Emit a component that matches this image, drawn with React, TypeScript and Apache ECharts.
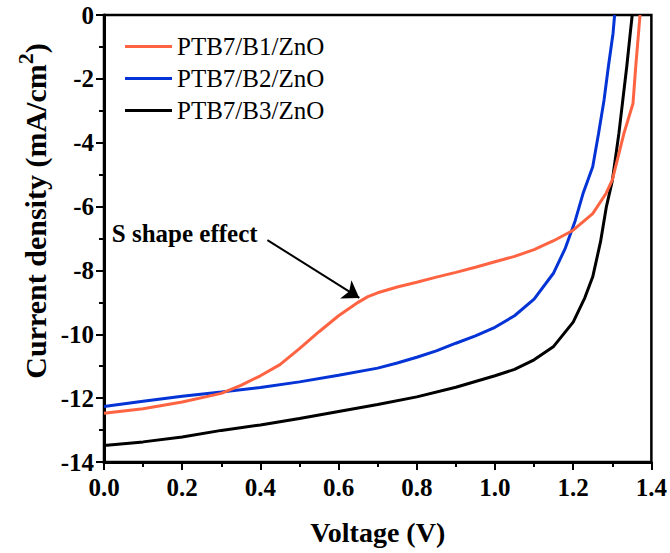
import React, { useEffect, useRef } from "react";
import * as echarts from "echarts";

const FONT = "'Liberation Serif', 'Times New Roman', serif";

const seriesNames = ["PTB7/B1/ZnO", "PTB7/B2/ZnO", "PTB7/B3/ZnO"];
const seriesColors = ["#FF6442", "#0433D6", "#000000"];

const b1Voltage = [0, 0.1, 0.2, 0.3, 0.35, 0.4, 0.45, 0.5, 0.55, 0.6, 0.65, 0.675, 0.7, 0.75, 0.8, 0.85, 0.9, 0.95, 1.0, 1.05, 1.1, 1.15, 1.2, 1.25, 1.284, 1.3, 1.33, 1.353, 1.36, 1.371];
const b1Current = [-12.47, -12.33, -12.12, -11.85, -11.6, -11.3, -10.95, -10.45, -9.92, -9.42, -9.0, -8.82, -8.7, -8.52, -8.37, -8.21, -8.06, -7.9, -7.73, -7.56, -7.35, -7.07, -6.74, -6.22, -5.59, -5.17, -3.7, -2.77, -1.62, 0];

const b2Voltage = [0, 0.1, 0.2, 0.3, 0.4, 0.5, 0.6, 0.7, 0.75, 0.8, 0.85, 0.9, 0.95, 1.0, 1.05, 1.1, 1.15, 1.18, 1.205, 1.225, 1.25, 1.265, 1.279, 1.29, 1.302, 1.306];
const b2Current = [-12.26, -12.1, -11.94, -11.81, -11.67, -11.49, -11.28, -11.06, -10.9, -10.72, -10.52, -10.28, -10.05, -9.78, -9.42, -8.9, -8.08, -7.3, -6.45, -5.6, -4.75, -3.7, -2.66, -1.62, -0.57, 0];

const b3Voltage = [0, 0.1, 0.2, 0.3, 0.4, 0.5, 0.6, 0.7, 0.8, 0.9, 1.0, 1.05, 1.1, 1.15, 1.2, 1.23, 1.25, 1.27, 1.285, 1.3, 1.317, 1.327, 1.337, 1.346, 1.351];
const b3Current = [-13.48, -13.37, -13.22, -13.01, -12.84, -12.64, -12.42, -12.2, -11.96, -11.66, -11.3, -11.1, -10.8, -10.38, -9.62, -8.85, -8.2, -7.1, -6.0, -5.2, -3.7, -2.66, -1.62, -0.57, 0];

const xTicks = { min: 0, max: 1.4, interval: 0.2 };
const yTicks = { min: -14, max: 0, interval: 2 };

// annotation (data coordinates)
const annotationText = "S shape effect";
const annotationTextAt = [0.02, -6.83];
const arrowFrom = [0.418, -7.05];
const arrowTo = [0.653, -8.86];

const zip = (v: number[], j: number[]) => v.map((x, i) => [x, j[i]]);

export default function App() {
  const ref = useRef<HTMLDivElement>(null);
  useEffect(() => {
    const chart = echarts.init(ref.current!, null, { renderer: "svg" });
    const currents = [b1Current, b2Current, b3Current];
    const voltages = [b1Voltage, b2Voltage, b3Voltage];
    const axisCommon = {
      axisLine: { show: true, onZero: false, lineStyle: { color: "#000", width: 3 } },
      axisTick: { show: true, inside: false, length: 8, lineStyle: { color: "#000", width: 2 } },
      minorTick: { show: true, splitNumber: 2, length: 5, lineStyle: { color: "#000", width: 2 } },
      splitLine: { show: false },
      minorSplitLine: { show: false },
    };
    chart.setOption({
      animation: false,
      backgroundColor: "#ffffff",
      textStyle: { fontFamily: FONT },
      grid: {
        left: 104,
        right: 18,
        top: 15,
        bottom: 91,
        show: true,
        borderColor: "#000",
        borderWidth: 2.5,
        backgroundColor: "transparent",
      },
      legend: {
        orient: "vertical",
        left: 125,
        top: 34,
        padding: 0,
        itemWidth: 47,
        itemHeight: 3,
        itemGap: 7,
        icon: "rect",
        data: seriesNames,
        textStyle: { fontFamily: FONT, fontSize: 25, color: "#000" },
      },
      xAxis: {
        type: "value",
        ...xTicks,
        ...axisCommon,
        axisLabel: {
          fontFamily: FONT,
          fontSize: 25,
          fontWeight: "bold",
          color: "#000",
          margin: 13,
          formatter: (v: number) => v.toFixed(1),
        },
        name: "Voltage (V)",
        nameLocation: "middle",
        nameGap: 56,
        nameTextStyle: { fontFamily: FONT, fontSize: 28, fontWeight: "bold", color: "#000" },
      },
      yAxis: {
        type: "value",
        ...yTicks,
        ...axisCommon,
        axisLabel: {
          fontFamily: FONT,
          fontSize: 25,
          fontWeight: "bold",
          color: "#000",
          margin: 10,
          formatter: (v: number) => String(v),
        },
      },
      series: seriesNames.map((name, i) => ({
        name,
        type: "line",
        data: zip(voltages[i], currents[i]),
        symbol: "none",
        showSymbol: false,
        smooth: false,
        color: seriesColors[i],
        lineStyle: { width: 3, color: seriesColors[i] },
        z: 3 - i,
        ...(i === 2
          ? {
              markLine: {
                silent: true,
                symbol: ["none", "arrow"],
                symbolSize: 16,
                label: { show: false },
                lineStyle: { color: "#000", width: 2, type: "solid" },
                itemStyle: { color: "#000" },
                data: [[{ coord: arrowFrom }, { coord: arrowTo }]],
              },
            }
          : {}),
      })),
    });
    const tp = chart.convertToPixel({ gridIndex: 0 }, annotationTextAt) as number[];
    chart.setOption({
      graphic: [
        {
          type: "text",
          x: tp[0],
          y: tp[1],
          style: {
            text: annotationText,
            fontFamily: FONT,
            fontSize: 25,
            fontWeight: "bold",
            fill: "#000",
            textAlign: "left",
            textVerticalAlign: "middle",
          },
        },
        {
          type: "text",
          x: 35,
          y: 211,
          rotation: Math.PI / 2,
          style: {
            text: "{a|Current density (mA/cm}{b|2}{a|)}",
            textAlign: "center",
            textVerticalAlign: "middle",
            fill: "#000",
            rich: {
              a: { fontFamily: FONT, fontSize: 30, fontWeight: "bold", fill: "#000", lineHeight: 42 },
              b: { fontFamily: FONT, fontSize: 22, fontWeight: "bold", fill: "#000", lineHeight: 22, verticalAlign: "top" },
            },
          },
        },
      ],
    });
    return () => chart.dispose();
  }, []);
  return <div ref={ref} style={{ position: "fixed", left: 0, top: 0, width: 670, height: 553 }} />;
}
